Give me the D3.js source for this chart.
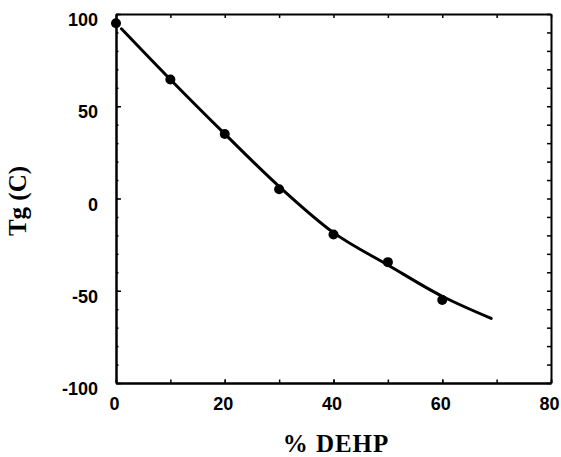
<!DOCTYPE html>
<html>
<head>
<meta charset="utf-8">
<script src="https://cdn.jsdelivr.net/npm/d3@7"></script>
<style>
  body { margin: 0; background: #fff; }
</style>
</head>
<body>
<div id="viz"></div>
<script>
var width = 561;
var height = 457;

var margin = { top: 14, right: 10, bottom: 74, left: 116 };

// measured points: % DEHP vs Tg (C)
var dehp = [0, 10, 20, 30, 40, 50, 60];
var tg = [95, 64.5, 35, 5, -19.5, -34.5, -55];

// fitted curve
var curveX = [1, 10, 20, 30, 40, 50, 60, 69];
var curveY = [92, 64.5, 35, 6.5, -18.5, -36, -53, -65];

var xTicks = [0, 20, 40, 60, 80];
var yTicks = [-100, -50, 0, 50, 100];

var svg = d3.select('#viz').append('svg')
  .attr('width', width)
  .attr('height', height);

var x = d3.scaleLinear().domain([0, 80]).range([margin.left, width - margin.right]);
var y = d3.scaleLinear().domain([-100, 100]).range([height - margin.bottom, margin.top]);

var minorX = d3.range(0, 81, 10);
var minorY = d3.range(-100, 101, 10);

function fmt(d) { return String(d); }

function styleAxis(g) {
  g.select('.domain').attr('stroke', '#000').attr('stroke-width', 2);
  g.selectAll('.tick line').attr('stroke', '#000').attr('stroke-width', 1.5);
  g.selectAll('.tick text')
    .attr('fill', '#000')
    .style('font-family', '"Liberation Sans", Arial, sans-serif')
    .style('font-weight', 'bold')
    .style('font-size', '18px');
}

// left
svg.append('g')
  .attr('transform', 'translate(' + x(0) + ',0)')
  .call(d3.axisLeft(y).tickValues(minorY).tickSize(-2.5).tickSizeOuter(0).tickFormat(''))
  .call(styleAxis);
svg.append('g')
  .attr('transform', 'translate(' + x(0) + ',0)')
  .call(d3.axisLeft(y).tickValues(yTicks).tickSize(-5).tickSizeOuter(0).tickPadding(18).tickFormat(fmt))
  .call(styleAxis)
  .call(function (g) { g.selectAll('.tick text').attr('dy', '0.64em'); });

// right
svg.append('g')
  .attr('transform', 'translate(' + x(80) + ',0)')
  .call(d3.axisRight(y).tickValues(minorY).tickSize(-4).tickSizeOuter(0).tickFormat(''))
  .call(styleAxis);

// bottom
svg.append('g')
  .attr('transform', 'translate(0,' + y(-100) + ')')
  .call(d3.axisBottom(x).tickValues(minorX).tickSize(-3.5).tickSizeOuter(0).tickFormat(''))
  .call(styleAxis);
svg.append('g')
  .attr('transform', 'translate(0,' + y(-100) + ')')
  .call(d3.axisBottom(x).tickValues(xTicks).tickSize(-3.5).tickSizeOuter(0).tickPadding(14).tickFormat(fmt))
  .call(styleAxis)
  .call(function (g) { g.selectAll('.tick text').attr('dx', -2); });

// top
svg.append('g')
  .attr('transform', 'translate(0,' + y(100) + ')')
  .call(d3.axisTop(x).tickValues(minorX).tickSize(-4).tickSizeOuter(0).tickFormat(''))
  .call(styleAxis);

// curve
var line = d3.line()
  .x(function (d) { return x(d[0]); })
  .y(function (d) { return y(d[1]); })
  .curve(d3.curveMonotoneX);

svg.append('path')
  .datum(d3.zip(curveX, curveY))
  .attr('d', line)
  .attr('fill', 'none')
  .attr('stroke', '#000')
  .attr('stroke-width', 3)
  .attr('stroke-linecap', 'round');

svg.selectAll('circle')
  .data(d3.zip(dehp, tg)).enter()
  .append('circle')
  .attr('cx', function (d) { return x(d[0]); })
  .attr('cy', function (d) { return y(d[1]); })
  .attr('r', 5)
  .attr('fill', '#000');

// axis titles
svg.append('text')
  .attr('x', 336)
  .attr('y', 452)
  .attr('text-anchor', 'middle')
  .style('font-family', '"Liberation Serif", "Times New Roman", serif')
  .style('font-weight', 'bold')
  .style('font-size', '25px')
  .style('letter-spacing', '1px')
  .text('% DEHP');

svg.append('text')
  .attr('transform', 'translate(26,201) rotate(-90)')
  .attr('text-anchor', 'middle')
  .style('font-family', '"Liberation Serif", "Times New Roman", serif')
  .style('font-weight', 'bold')
  .style('font-size', '25px')
  .text('Tg (C)');
</script>
</body>
</html>
